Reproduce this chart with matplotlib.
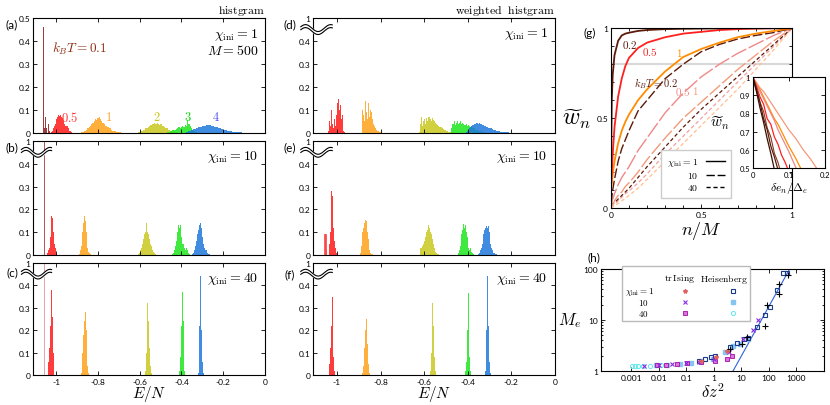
import numpy as np
import matplotlib
matplotlib.use("Agg")
import matplotlib.pyplot as plt
from matplotlib.lines import Line2D
from matplotlib.patches import Rectangle
from matplotlib.ticker import FixedLocator, MultipleLocator, LogLocator, NullFormatter

plt.rcParams["font.family"] = ["Lato", "DejaVu Sans"]
plt.rcParams["mathtext.fontset"] = "cm"

# ---- histogram data: one entry per temperature kBT = 0.1, 0.5, 1, 2, 3, 4 ----
temps = ["0.1", "0.5", "1", "2", "3", "4"]
bar_colors = ["#8b1a1a", "#ff1a1a", "#ffa21a", "#c8c81e", "#1ee61e", "#1e78dc"]
label_colors = ["#8b2a10", "#ff3030", "#ffa030", "#c8c81e", "#10d810", "#5050f0"]

# (a) histogram, chi_ini = 1
a_start = [-1.060, -1.025, -0.880, -0.615, -0.475, -0.380]
a_width = [0.004, 0.005, 0.006, 0.006, 0.006, 0.006]
a_heights = [
    [0.46, 0.02, 0.07, 0.02, 0.0, 0.43, 0.04, 0.01],
    [0.005, 0.01, 0.02, 0.03, 0.04, 0.06, 0.07, 0.08, 0.075, 0.08, 0.07, 0.065, 0.05, 0.04,
     0.03, 0.03, 0.02, 0.01, 0.01, 0.005],
    [0.003, 0.005, 0.008, 0.01, 0.015, 0.02, 0.025, 0.03, 0.04, 0.045, 0.05, 0.06, 0.055, 0.065,
     0.07, 0.06, 0.05, 0.045, 0.04, 0.03, 0.03, 0.025, 0.02, 0.02, 0.015, 0.01, 0.01, 0.008,
     0.006, 0.005, 0.004, 0.003, 0.002, 0.002],
    [0.002, 0.003, 0.005, 0.008, 0.01, 0.012, 0.015, 0.02, 0.022, 0.025, 0.03, 0.035, 0.038, 0.04,
     0.045, 0.04, 0.042, 0.04, 0.035, 0.038, 0.03, 0.03, 0.025, 0.022, 0.02, 0.015, 0.012, 0.01,
     0.008, 0.006, 0.004, 0.003, 0.002],
    [0.002, 0.004, 0.006, 0.008, 0.01, 0.012, 0.015, 0.015, 0.018, 0.02, 0.025, 0.022, 0.028, 0.03,
     0.025, 0.035, 0.03, 0.055, 0.04, 0.03, 0.02, 0.015, 0.01, 0.006, 0.004, 0.002],
    [0.004, 0.006, 0.008, 0.01, 0.012, 0.014, 0.016, 0.018, 0.02, 0.022, 0.024, 0.026, 0.028, 0.03,
     0.03, 0.032, 0.034, 0.035, 0.033, 0.034, 0.032, 0.03, 0.03, 0.028, 0.026, 0.024, 0.022, 0.02,
     0.018, 0.016, 0.014, 0.012, 0.011, 0.01, 0.009, 0.008, 0.007, 0.006, 0.005, 0.005, 0.004,
     0.004, 0.003, 0.003, 0.004, 0.002, 0.002, 0.001],
]

# (b) histogram, chi_ini = 10
b_start = [-1.056, -1.042, -0.890, -0.610, -0.445, -0.350]
b_width = [0.002, 0.004, 0.004, 0.005, 0.005, 0.005]
b_heights = [
    [1.0],
    [0.01, 0.02, 0.03, 0.08, 0.15, 0.17, 0.16, 0.1, 0.05, 0.03, 0.01, 0.005],
    [0.005, 0.02, 0.04, 0.06, 0.1, 0.14, 0.17, 0.15, 0.1, 0.06, 0.03, 0.015, 0.008, 0.004],
    [0.005, 0.01, 0.02, 0.03, 0.05, 0.07, 0.09, 0.1, 0.14, 0.1, 0.09, 0.07, 0.05, 0.04, 0.02,
     0.015, 0.01, 0.005],
    [0.005, 0.01, 0.02, 0.04, 0.06, 0.1, 0.13, 0.12, 0.13, 0.08, 0.05, 0.03, 0.02, 0.03, 0.02,
     0.01, 0.005],
    [0.005, 0.01, 0.02, 0.04, 0.06, 0.09, 0.11, 0.13, 0.14, 0.12, 0.08, 0.05, 0.03, 0.02, 0.01,
     0.005, 0.003],
]

# (c) histogram, chi_ini = 40
c_start = [-1.056, -1.040, -0.882, -0.575, -0.410, -0.322]
c_width = [0.002, 0.004, 0.004, 0.004, 0.004, 0.004]
c_heights = [
    [1.0],
    [0.02, 0.06, 0.12, 0.22, 0.38, 0.26, 0.1, 0.03],
    [0.01, 0.04, 0.1, 0.18, 0.24, 0.28, 0.2, 0.1, 0.04, 0.01],
    [0.02, 0.1, 0.25, 0.32, 0.24, 0.12, 0.04, 0.01],
    [0.02, 0.08, 0.22, 0.37, 0.24, 0.08, 0.02],
    [0.01, 0.06, 0.22, 0.44, 0.2, 0.06, 0.01],
]

# (d) weighted histogram, chi_ini = 1
d_start = [-1.060, -1.042, -0.885, -0.625, -0.475, -0.410]
d_width = [0.003, 0.004, 0.004, 0.005, 0.005, 0.005]
d_heights = [
    [1.0],
    [0.01, 0.13, 0.05, 0.03, 0.1, 0.04, 0.02, 0.06, 0.03, 0.12, 0.08, 0.13, 0.15, 0.1, 0.12,
     0.06, 0.08, 0.02, 0.01, 0.005],
    [0.1, 0.08, 0.05, 0.06, 0.14, 0.09, 0.06, 0.13, 0.07, 0.1, 0.09, 0.12, 0.06, 0.04, 0.03,
     0.02, 0.015, 0.01, 0.01, 0.008, 0.005, 0.004, 0.003, 0.002],
    [0.005, 0.04, 0.07, 0.03, 0.05, 0.06, 0.04, 0.065, 0.05, 0.07, 0.06, 0.05, 0.065, 0.055,
     0.05, 0.045, 0.04, 0.035, 0.03, 0.028, 0.025, 0.02, 0.018, 0.015, 0.012, 0.01, 0.008,
     0.006, 0.005, 0.004, 0.003, 0.002],
    [0.02, 0.04, 0.05, 0.035, 0.045, 0.05, 0.04, 0.045, 0.05, 0.04, 0.045, 0.04, 0.035, 0.04,
     0.03, 0.035, 0.03, 0.025, 0.03, 0.02, 0.025, 0.02, 0.015, 0.015, 0.01, 0.01, 0.008,
     0.006, 0.005, 0.004, 0.003, 0.002],
    [0.005, 0.01, 0.015, 0.02, 0.025, 0.03, 0.035, 0.035, 0.04, 0.04, 0.045, 0.04, 0.042,
     0.038, 0.04, 0.035, 0.033, 0.03, 0.03, 0.028, 0.025, 0.022, 0.02, 0.02, 0.018, 0.015,
     0.013, 0.012, 0.01, 0.009, 0.008, 0.007, 0.006, 0.005, 0.005, 0.004, 0.004, 0.003,
     0.003, 0.003, 0.002, 0.002, 0.002, 0.001],
]

# (e) weighted histogram, chi_ini = 10
e_start = [-1.064, -1.036, -0.895, -0.620, -0.445, -0.352]
e_width = [0.002, 0.004, 0.004, 0.004, 0.004, 0.004]
e_heights = [
    [1.0],
    [0.05, 0.1, 0.28, 0.26, 0.18, 0.12, 0.06, 0.03, 0.01],
    [0.01, 0.04, 0.07, 0.1, 0.12, 0.14, 0.155, 0.15, 0.1, 0.07, 0.04, 0.02, 0.01, 0.005,
     0.003, 0.002],
    [0.03, 0.02, 0.03, 0.04, 0.05, 0.06, 0.08, 0.1, 0.11, 0.12, 0.13, 0.12, 0.1, 0.09, 0.07,
     0.05, 0.03, 0.02, 0.015, 0.01, 0.005, 0.003],
    [0.01, 0.02, 0.04, 0.06, 0.09, 0.11, 0.135, 0.12, 0.13, 0.1, 0.08, 0.05, 0.03, 0.02,
     0.03, 0.015, 0.008, 0.004],
    [0.005, 0.01, 0.02, 0.03, 0.05, 0.07, 0.09, 0.11, 0.12, 0.125, 0.12, 0.125, 0.1, 0.08,
     0.05, 0.03, 0.02, 0.01, 0.008, 0.005, 0.003],
]
e_outline_start = -1.060
e_outline_heights = [0.09, 0.09, 0.02]

# (f) weighted histogram, chi_ini = 40
f_start = [-1.059, -1.036, -0.884, -0.574, -0.412, -0.322]
f_width = [0.002, 0.004, 0.004, 0.004, 0.004, 0.004]
f_heights = [
    [1.0],
    [0.05, 0.12, 0.22, 0.35, 0.16, 0.08, 0.02],
    [0.01, 0.04, 0.12, 0.2, 0.25, 0.26, 0.14, 0.05, 0.01],
    [0.02, 0.1, 0.25, 0.32, 0.22, 0.08, 0.02],
    [0.02, 0.06, 0.2, 0.365, 0.24, 0.08, 0.02],
    [0.02, 0.06, 0.2, 0.44, 0.22, 0.06, 0.01],
]
line01_colors = {"b": "#b03a3a", "c": "#e09595", "d": "#a02020", "e": "#b03a3a", "f": "#d87878"}

# ---- (g) weight curves ----
g_x = [0, 0.005, 0.01, 0.02, 0.04, 0.06, 0.08, 0.1, 0.15, 0.2, 0.3, 0.4, 0.5, 0.6, 0.7, 0.8, 0.9, 1.0]
g_chi1_T02 = [0.15, 0.6, 0.74, 0.85, 0.93, 0.96, 0.97, 0.975, 0.985, 0.99, 0.995, 0.997, 0.998, 0.999, 1, 1, 1, 1]
g_chi1_T05 = [0.1, 0.2, 0.3, 0.45, 0.62, 0.72, 0.79, 0.835, 0.89, 0.92, 0.95, 0.97, 0.98, 0.99, 0.995, 0.998, 1, 1]
g_chi1_T1 = [0.1, 0.14, 0.19, 0.26, 0.36, 0.43, 0.48, 0.52, 0.6, 0.66, 0.76, 0.84, 0.885, 0.92, 0.95, 0.97, 0.985, 1]
g_chi10_T02 = [0.03, 0.06, 0.1, 0.16, 0.26, 0.33, 0.38, 0.43, 0.54, 0.6, 0.72, 0.8, 0.87, 0.91, 0.94, 0.96, 0.976, 1]
g_chi10_T05 = [0.02, 0.03, 0.05, 0.08, 0.13, 0.17, 0.2, 0.23, 0.32, 0.39, 0.53, 0.64, 0.73, 0.8, 0.86, 0.91, 0.96, 1]
g_chi10_T1 = [0.01, 0.015, 0.02, 0.04, 0.07, 0.09, 0.12, 0.14, 0.2, 0.27, 0.39, 0.5, 0.59, 0.68, 0.77, 0.85, 0.93, 1]
g_chi40_T02 = [0.02, 0.02, 0.025, 0.03, 0.05, 0.07, 0.09, 0.11, 0.17, 0.23, 0.34, 0.45, 0.55, 0.64, 0.73, 0.82, 0.91, 1]
g_chi40_T05 = [0.01, 0.01, 0.015, 0.02, 0.04, 0.06, 0.08, 0.095, 0.14, 0.19, 0.3, 0.4, 0.5, 0.6, 0.7, 0.8, 0.9, 1]
g_chi40_T1 = [0.0, 0.003, 0.006, 0.012, 0.025, 0.04, 0.055, 0.07, 0.11, 0.16, 0.26, 0.36, 0.46, 0.56, 0.66, 0.77, 0.88, 1]

# inset: w_n against de_n / Delta_e
ins_x = [0, 0.01, 0.02, 0.03, 0.04, 0.05, 0.06, 0.07, 0.08, 0.09, 0.1, 0.12, 0.14, 0.16, 0.18, 0.2]
ins_chi1_T02 = [1, 0.92, 0.83, 0.75, 0.66, 0.58, 0.49, 0.42, 0.36, 0.3, 0.25, 0.15, 0.05, 0, 0, 0]
ins_chi10_T02 = [1, 0.93, 0.86, 0.77, 0.71, 0.62, 0.56, 0.49, 0.43, 0.37, 0.3, 0.2, 0.1, 0, 0, 0]
ins_chi40_T02 = [1, 0.94, 0.86, 0.81, 0.72, 0.67, 0.58, 0.53, 0.46, 0.4, 0.34, 0.22, 0.1, 0, 0, 0]
ins_chi1_T05 = [1, 0.95, 0.89, 0.85, 0.77, 0.74, 0.67, 0.63, 0.57, 0.53, 0.48, 0.38, 0.28, 0.18, 0.08, 0]
ins_chi10_T05 = [1, 0.96, 0.92, 0.88, 0.84, 0.8, 0.76, 0.71, 0.67, 0.63, 0.59, 0.5, 0.42, 0.33, 0.25, 0.17]
ins_chi1_T1 = [1, 0.96, 0.93, 0.89, 0.85, 0.81, 0.77, 0.74, 0.7, 0.66, 0.62, 0.55, 0.47, 0.4, 0.32, 0.25]
ins_chi10_T1 = [1, 0.97, 0.94, 0.92, 0.89, 0.86, 0.83, 0.8, 0.77, 0.74, 0.71, 0.66, 0.6, 0.55, 0.49, 0.43]

# ---- (h) M_e against dz^2 ----
heis1_x = [0.3, 0.5, 0.8, 1.1, 4, 7, 13, 18, 37, 74, 112, 195, 316, 450]
heis1_y = [1.6, 1.7, 1.85, 2.0, 3.0, 3.6, 4.2, 4.4, 7.3, 12.5, 18, 39, 83, 85]
heis10_x = [0.008, 0.02, 0.06, 0.15, 0.35, 0.9, 2.5, 5, 9, 17]
heis10_y = [1.3, 1.33, 1.38, 1.45, 1.55, 1.75, 2.4, 3.1, 3.4, 4.2]
heis40_x = [0.0011, 0.0014, 0.0018, 0.0028, 0.0048, 0.012]
heis40_y = [1.27, 1.27, 1.27, 1.27, 1.28, 1.3]
ising1_x = [0.35, 1.2, 3.0]
ising1_y = [1.55, 1.9, 2.5]
ising10_x = [0.003, 0.01, 0.03, 0.1, 0.3, 1.0, 3.5, 12, 27, 42]
ising10_y = [1.28, 1.3, 1.35, 1.42, 1.52, 1.7, 2.35, 4.2, 6.5, 10]
ising40_x = [0.009, 0.018, 0.048, 0.11, 0.33, 1.15, 3.0, 4.6]
ising40_y = [1.31, 1.33, 1.38, 1.42, 1.49, 1.6, 1.73, 2.0]
extra_x = [4, 11, 16, 70, 85, 225, 225, 490]
extra_y = [2.7, 3.4, 4.6, 7.7, 19.6, 32, 50, 77]
fit_x = [5.0, 600.0]
fit_y = [1.0, 106.0]

fig = plt.figure(figsize=(8.3, 4.06), dpi=100)


def style_ax(ax, fs=6):
    ax.tick_params(direction="in", top=True, right=True, length=3, width=0.6, labelsize=fs, pad=2)
    for s in ax.spines.values():
        s.set_linewidth(0.8)


def wavy_break(ax, y0):
    t = np.linspace(0, 1, 60)
    xs = -0.05 + 0.13 * t
    wave = 0.03 * np.sin(2 * np.pi * t * 1.25 + 0.4)
    ax.fill_between(xs, y0 + wave - 0.013, y0 + wave + 0.013, color="white",
                    transform=ax.transAxes, clip_on=False, zorder=5)
    for off in (-0.013, 0.013):
        ax.plot(xs, y0 + wave + off, color="black", lw=0.8, transform=ax.transAxes,
                clip_on=False, zorder=6)


def hist_panel(rect, key, starts, widths, heights, broken, xlabels):
    ax = fig.add_axes(rect)
    for i in range(len(temps)):
        centers = starts[i] + widths[i] * (np.arange(len(heights[i])) + 0.5)
        col = bar_colors[i]
        if i == 0 and key in line01_colors:
            col = line01_colors[key]
        ax.bar(centers, heights[i], width=widths[i], color=col, alpha=0.85, linewidth=0)
    ax.set_xlim(-1.11, 0)
    ax.set_ylim(0, 0.5)
    ax.xaxis.set_major_locator(FixedLocator([-1, -0.8, -0.6, -0.4, -0.2, 0]))
    ax.yaxis.set_major_locator(FixedLocator([0, 0.1, 0.2, 0.3, 0.4, 0.5]))
    top = "1" if broken else "0.5"
    ax.set_yticklabels(["0", "0.1", "0.2", "0.3", "0.4", top])
    if xlabels:
        ax.set_xticklabels(["-1", "-0.8", "-0.6", "-0.4", "-0.2", "0"])
        ax.set_xlabel(r"$E/N$", fontsize=11, labelpad=-1)
    else:
        ax.set_xticklabels([])
    style_ax(ax)
    if broken:
        wavy_break(ax, 0.9)
    return ax


# left column: histogram
ax_a = hist_panel([0.0398, 0.670, 0.2795, 0.283], "a", a_start, a_width, a_heights, False, False)
ax_b = hist_panel([0.0398, 0.3695, 0.2795, 0.281], "b", b_start, b_width, b_heights, True, False)
ax_c = hist_panel([0.0398, 0.0739, 0.2795, 0.276], "c", c_start, c_width, c_heights, True, True)
# right column: weighted histogram
ax_d = hist_panel([0.377, 0.670, 0.2916, 0.283], "d", d_start, d_width, d_heights, True, False)
ax_e = hist_panel([0.377, 0.3695, 0.2916, 0.281], "e", e_start, e_width, e_heights, True, False)
ax_f = hist_panel([0.377, 0.0739, 0.2916, 0.276], "f", f_start, f_width, f_heights, True, True)

# hollow outline bars in (e)
ax_e.bar(e_outline_start + 0.004 * (np.arange(len(e_outline_heights)) + 0.5), e_outline_heights,
         width=0.004, facecolor="none", edgecolor="#ff4040", linewidth=0.6)

# temperature labels in (a)
lab_x = [-1.02, -0.935, -0.75, -0.518, -0.367, -0.234]
lab_y = [0.372, 0.075, 0.075, 0.075, 0.075, 0.075]
for i, t in enumerate(temps):
    txt = r"$k_BT=0.1$" if i == 0 else r"$%s$" % t
    ax_a.text(lab_x[i], lab_y[i], txt, color=label_colors[i], fontsize=9.5 if i == 0 else 9,
              ha="left" if i == 0 else "center", va="center")
ax_a.text(0.97, 0.86, r"$\chi_{\rm ini}=1$", transform=ax_a.transAxes, ha="right", va="center", fontsize=10)
ax_a.text(0.97, 0.73, r"$M=500$", transform=ax_a.transAxes, ha="right", va="center", fontsize=10)
ax_a.text(1.0, 1.012, r"$\mathrm{histgram}$", transform=ax_a.transAxes, ha="right", va="bottom", fontsize=8.5)
ax_d.text(1.0, 1.012, r"$\mathrm{weighted\ \ histgram}$", transform=ax_d.transAxes, ha="right",
          va="bottom", fontsize=8.5)
for ax, chi in [(ax_b, 10), (ax_c, 40), (ax_d, 1), (ax_e, 10), (ax_f, 40)]:
    ax.text(0.97, 0.87, r"$\chi_{\rm ini}=%d$" % chi, transform=ax.transAxes, ha="right",
            va="center", fontsize=10)

# panel letters
for txt, px, py in [("(a)", 12, 25), ("(b)", 12, 148), ("(c)", 12, 273), ("(d)", 290, 25),
                    ("(e)", 290, 148), ("(f)", 290, 275), ("(g)", 590, 33), ("(h)", 594, 258)]:
    fig.text(px / 830, 1 - py / 406, txt, fontsize=8.5, ha="center", va="center")

# ---- (g) ----
ax_g = fig.add_axes([0.736, 0.485, 0.218, 0.443])
ax_g.axhline(0.8, color="#d8d8d8", lw=1.5, zorder=0)
dk, rd, og, pk, lo, pc = "#5c1a0a", "#ff2020", "#ff8c00", "#f08888", "#f39a7a", "#ffc090"
ax_g.plot(g_x, g_chi40_T1, color=pc, lw=0.9, dashes=(3, 2))
ax_g.plot(g_x, g_chi40_T05, color="#f4a0a0", lw=0.9, dashes=(3, 2))
ax_g.plot(g_x, g_chi40_T02, color=dk, lw=0.9, dashes=(3, 2))
ax_g.plot(g_x, g_chi10_T1, color=lo, lw=1.0, dashes=(10, 2))
ax_g.plot(g_x, g_chi10_T05, color=pk, lw=1.0, dashes=(12, 2))
ax_g.plot(g_x, g_chi10_T02, color=dk, lw=1.0, dashes=(7, 2))
ax_g.plot(g_x, g_chi1_T1, color=og, lw=1.3)
ax_g.plot(g_x, g_chi1_T05, color=rd, lw=1.3)
ax_g.plot(g_x, g_chi1_T02, color=dk, lw=1.3)
ax_g.set_xlim(0, 1)
ax_g.set_ylim(0, 1)
ax_g.xaxis.set_major_locator(FixedLocator([0, 0.5, 1]))
ax_g.yaxis.set_major_locator(FixedLocator([0, 0.5, 1]))
ax_g.set_xticklabels(["0", "0.5", "1"])
ax_g.set_yticklabels(["0", "0.5", "1"])
ax_g.xaxis.set_minor_locator(MultipleLocator(0.1))
ax_g.yaxis.set_minor_locator(MultipleLocator(0.1))
style_ax(ax_g)
ax_g.tick_params(which="minor", direction="in", top=True, right=True, length=2)
ax_g.set_xlabel(r"$n/M$", fontsize=13, labelpad=1)
ax_g.set_ylabel(r"$\widetilde{w}_n$", fontsize=17, rotation=0, labelpad=14, va="center")
for txt, x, y, c in [("0.2", 0.105, 0.915, dk), ("0.5", 0.215, 0.875, rd), ("1", 0.38, 0.87, og),
                     (r"k_BT=0.2", 0.25, 0.70, dk), ("0.5", 0.4, 0.65, pk), ("1", 0.464, 0.655, lo)]:
    ax_g.text(x, y, r"$%s$" % txt, color=c, fontsize=7.5 if "k_B" in txt else 8, ha="center", va="center")
handles = [Line2D([], [], color="black", lw=1.0),
           Line2D([], [], color="black", lw=1.0, dashes=(6, 2)),
           Line2D([], [], color="black", lw=1.0, dashes=(3, 2))]
leg = ax_g.legend(handles, [r"$\chi_{\rm ini}=1$", r"$\qquad10$", r"$\qquad40$"],
                  loc="lower left", bbox_to_anchor=(0.25, 0.03), markerfirst=False, fontsize=7,
                  fancybox=False, edgecolor="#cccccc", handlelength=2.0, borderpad=0.6,
                  labelspacing=0.2, handletextpad=0.8, framealpha=1)
leg.get_frame().set_linewidth(1.0)

# inset
ax_i = fig.add_axes([0.907, 0.584, 0.0867, 0.224])
ax_i.plot(ins_x, ins_chi10_T1, color=lo, lw=0.9)
ax_i.plot(ins_x, ins_chi1_T1, color=og, lw=0.9)
ax_i.plot(ins_x, ins_chi10_T05, color=pk, lw=0.9)
ax_i.plot(ins_x, ins_chi1_T05, color=rd, lw=0.9)
ax_i.plot(ins_x, ins_chi40_T02, color="#8a3a20", lw=0.8)
ax_i.plot(ins_x, ins_chi10_T02, color=dk, lw=0.9)
ax_i.plot(ins_x, ins_chi1_T02, color="#3a1005", lw=0.9)
ax_i.set_xlim(0, 0.2)
ax_i.set_ylim(0.5, 1)
ax_i.xaxis.set_major_locator(FixedLocator([0, 0.1, 0.2]))
ax_i.set_xticklabels(["0", "0.1", "0.2"])
ax_i.yaxis.set_major_locator(FixedLocator([0.5, 0.6, 0.7, 0.8, 0.9, 1.0]))
ax_i.set_yticklabels(["0.5", "0.6", "0.7", "0.8", "0.9", "1"])
style_ax(ax_i, fs=5.5)
ax_i.set_xlabel(r"$\delta e_n/\Delta_e$", fontsize=8.5, labelpad=1)
ax_i.set_ylabel(r"$\widetilde{w}_n$", fontsize=11, rotation=0, labelpad=14, va="center")

# ---- (h) ----
ax_h = fig.add_axes([0.724, 0.0837, 0.2687, 0.251])
ax_h.set_xscale("log")
ax_h.set_yscale("log")
ax_h.plot(fit_x, fit_y, color="#3060e0", lw=0.8)
ax_h.plot(heis40_x, heis40_y, "o", ms=3, mfc="none", mec="#60e8f0", mew=0.7, ls="none")
ax_h.plot(heis10_x, heis10_y, "s", ms=3, color="#88c4f0", ls="none")
ax_h.plot(heis1_x, heis1_y, "s", ms=3.5, mfc="none", mec="#1a3a8a", mew=0.8, ls="none")
ax_h.plot(ising40_x, ising40_y, "s", ms=3, mfc="#e070e0", mec="#a010a0", mew=0.6, ls="none")
ax_h.plot(ising10_x, ising10_y, "x", ms=3.5, color="#8a2be2", mew=0.8, ls="none")
ax_h.plot(ising1_x, ising1_y, "*", ms=3, color="#e06060", ls="none")
ax_h.plot(extra_x, extra_y, "+", ms=4, color="black", mew=0.8, ls="none")
ax_h.set_xlim(8e-5, 1e4)
ax_h.set_ylim(1, 100)
ax_h.xaxis.set_major_locator(FixedLocator([1e-3, 1e-2, 1e-1, 1, 10, 100, 1000]))
ax_h.set_xticklabels(["0.001", "0.01", "0.1", "1", "10", "100", "1000"])
ax_h.xaxis.set_minor_locator(LogLocator(base=10, subs=np.arange(2, 10)))
ax_h.xaxis.set_minor_formatter(NullFormatter())
ax_h.yaxis.set_major_locator(FixedLocator([1, 10, 100]))
ax_h.set_yticklabels(["1", "10", "100"])
ax_h.yaxis.set_minor_locator(LogLocator(base=10, subs=np.arange(2, 10)))
ax_h.yaxis.set_minor_formatter(NullFormatter())
style_ax(ax_h)
ax_h.tick_params(which="minor", direction="in", top=True, right=True, length=1.5)
ax_h.set_xlabel(r"$\delta z^2$", fontsize=12, labelpad=0)
ax_h.set_ylabel(r"$M_e$", fontsize=12, rotation=0, labelpad=10, va="center")

# legend table for (h)
ax_h.add_patch(Rectangle((0.094, 0.49), 0.574, 0.54, transform=ax_h.transAxes, facecolor="white",
                         edgecolor="#bbbbbb", lw=1.0, clip_on=False, zorder=4))
ax_h.text(0.355, 0.91, r"$\mathrm{tr\,Ising}$", transform=ax_h.transAxes, fontsize=7,
          ha="center", va="center", zorder=5)
ax_h.text(0.55, 0.91, r"$\mathrm{Heisenberg}$", transform=ax_h.transAxes, fontsize=7,
          ha="center", va="center", zorder=5)
row_y = [0.79, 0.68, 0.57]
ax_h.text(0.11, row_y[0], r"$\chi_{\rm ini}=1$", transform=ax_h.transAxes, fontsize=6.5, ha="left",
          va="center", zorder=5)
ax_h.text(0.215, row_y[1], r"$10$", transform=ax_h.transAxes, fontsize=6.5, ha="right", va="center", zorder=5)
ax_h.text(0.215, row_y[2], r"$40$", transform=ax_h.transAxes, fontsize=6.5, ha="right", va="center", zorder=5)
ising_sty = [dict(marker="*", ms=3, color="#e06060"),
             dict(marker="x", ms=3.5, color="#8a2be2", mew=0.8),
             dict(marker="s", ms=3, mfc="#e070e0", mec="#a010a0", mew=0.6)]
heis_sty = [dict(marker="s", ms=3.5, mfc="none", mec="#1a3a8a", mew=0.8),
            dict(marker="s", ms=3, color="#88c4f0"),
            dict(marker="o", ms=3, mfc="none", mec="#60e8f0", mew=0.7)]
for y, si, sh in zip(row_y, ising_sty, heis_sty):
    ax_h.plot([0.377], [y], transform=ax_h.transAxes, ls="none", clip_on=False, zorder=6, **si)
    ax_h.plot([0.59], [y], transform=ax_h.transAxes, ls="none", clip_on=False, zorder=6, **sh)

fig.savefig("out.png", dpi=100)
